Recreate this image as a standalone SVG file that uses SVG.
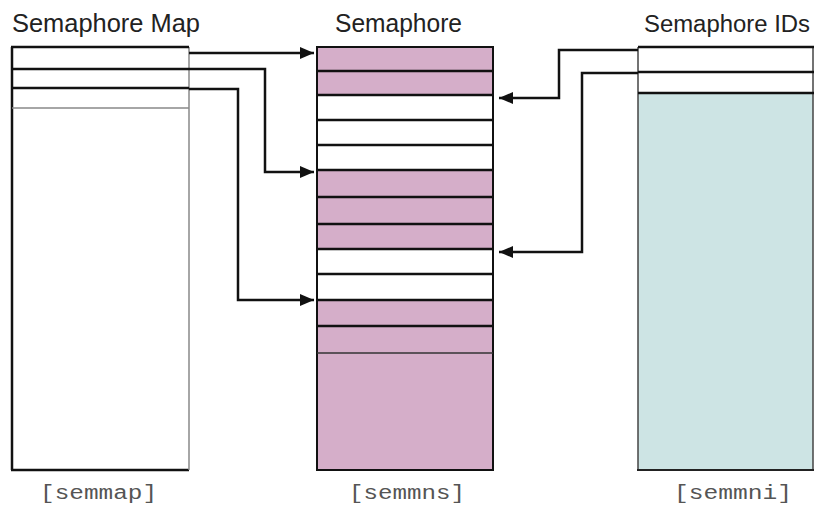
<svg xmlns="http://www.w3.org/2000/svg" width="817" height="510" viewBox="0 0 817 510">
<defs>
<marker id="ah" viewBox="0 0 14 12" refX="14" refY="6" markerWidth="14" markerHeight="12" markerUnits="userSpaceOnUse" orient="auto">
<path d="M0,0 L14,6 L0,12 Z" fill="#111"/>
</marker>
<style>
.title{font-family:"Liberation Sans",Arial,sans-serif;font-size:25px;fill:#222}
.title2{font-family:"Liberation Sans",Arial,sans-serif;font-size:23.5px;fill:#222}
.lbl{font-family:"Liberation Mono","Courier New",monospace;font-size:20px;fill:#555}
.blk{stroke:#111;stroke-width:2.5;fill:none}
.gry{stroke:#888;stroke-width:1.5;fill:none}
.pink{fill:#d5aec9}
.teal{fill:#cde4e4}
.conn{stroke:#111;stroke-width:2.5;fill:none;marker-end:url(#ah)}
</style>
</defs>
<rect width="817" height="510" fill="#fff"/>
<g id="semaphore-map">
<text class="title" x="12" y="32" textLength="188" lengthAdjust="spacingAndGlyphs">Semaphore Map</text>
<line class="blk" x1="12" y1="47" x2="12" y2="470"/>
<line class="blk" x1="11" y1="470" x2="189" y2="470"/>
<line class="gry" x1="189" y1="47" x2="189" y2="470"/>
<line class="blk" x1="11" y1="47" x2="189" y2="47"/>
<line class="blk" x1="12" y1="69" x2="189" y2="69"/>
<line class="blk" x1="12" y1="88" x2="189" y2="88"/>
<line class="gry" x1="12" y1="108" x2="189" y2="108"/>
<text class="lbl" x="40" y="499" textLength="117" lengthAdjust="spacingAndGlyphs">[semmap]</text>
</g>
<g id="semaphore">
<text class="title" x="335" y="32" textLength="127" lengthAdjust="spacingAndGlyphs">Semaphore</text>
<rect class="pink" x="317" y="47" width="176" height="48"/>
<rect class="pink" x="317" y="170" width="176" height="79"/>
<rect class="pink" x="317" y="300" width="176" height="170"/>
<rect x="317" y="47" width="176" height="423" fill="none" stroke="#111" stroke-width="2"/>
<g class="blk">
<line x1="317" y1="71" x2="493" y2="71"/>
<line x1="317" y1="95" x2="493" y2="95"/>
<line x1="317" y1="120" x2="493" y2="120"/>
<line x1="317" y1="145" x2="493" y2="145"/>
<line x1="317" y1="170" x2="493" y2="170"/>
<line x1="317" y1="197" x2="493" y2="197"/>
<line x1="317" y1="224" x2="493" y2="224"/>
<line x1="317" y1="249" x2="493" y2="249"/>
<line x1="317" y1="274" x2="493" y2="274"/>
<line x1="317" y1="300" x2="493" y2="300"/>
<line x1="317" y1="326" x2="493" y2="326"/>
</g>
<line x1="317" y1="353" x2="493" y2="353" stroke="#333" stroke-width="1.5"/>
<text class="lbl" x="349" y="499" textLength="116" lengthAdjust="spacingAndGlyphs">[semmns]</text>
</g>
<g id="semaphore-ids">
<text class="title2" x="644" y="32" textLength="166" lengthAdjust="spacingAndGlyphs">Semaphore IDs</text>
<rect class="teal" x="638" y="93" width="175" height="377"/>
<line x1="638" y1="47" x2="638" y2="470" stroke="#444" stroke-width="1.5"/>
<line x1="813" y1="47" x2="813" y2="470" stroke="#444" stroke-width="1.5"/>
<line x1="637" y1="470" x2="814" y2="470" stroke="#222" stroke-width="2"/>
<line class="blk" x1="638" y1="47" x2="814" y2="47"/>
<line class="blk" x1="638" y1="72" x2="814" y2="72"/>
<line class="blk" x1="638" y1="93" x2="814" y2="93"/>
<text class="lbl" x="674" y="499" textLength="118" lengthAdjust="spacingAndGlyphs">[semmni]</text>
</g>
<g id="connectors">
<path class="conn" d="M189,53 H314"/>
<path class="conn" d="M189,69 H265 V172 H314"/>
<path class="conn" d="M189,89 H238 V300 H314"/>
<path class="conn" d="M638,50 H559 V98 H499"/>
<path class="conn" d="M638,73 H582 V252 H499"/>
</g>
</svg>
